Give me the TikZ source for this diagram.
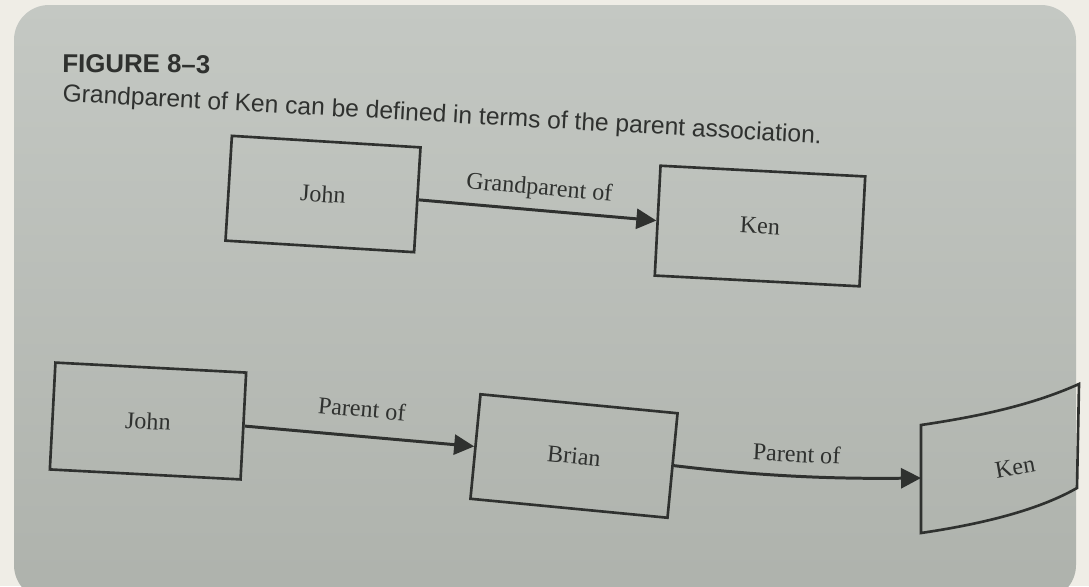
\documentclass[tikz,border=0pt]{standalone}
\usepackage{fontspec}
\setmainfont{Liberation Serif}
\newfontfamily\capfont[Ligatures=TeX]{Liberation Sans}
\usetikzlibrary{arrows.meta}
\definecolor{frame}{HTML}{EFEDE6}
\definecolor{pagetop}{HTML}{C4C8C3}
\definecolor{pagebot}{HTML}{AEB2AC}
\definecolor{ink}{HTML}{2F312F}
\begin{document}
\begin{tikzpicture}[x=0.02cm,y=-0.02cm,
  entity/.style={draw=ink,line width=1.5pt,inner sep=0pt,text=ink,
    font=\fontsize{13.7}{16}\selectfont},
  assoc/.style={draw=ink,line width=1.7pt,-{Triangle[length=0.4cm,width=0.4cm]}},
  role/.style={text=ink,inner sep=0pt,font=\fontsize{13.7}{16}\selectfont}]
\useasboundingbox (0,0) rectangle (1089,586);
\fill[frame] (0,0) rectangle (1089,586);
\shade[top color=pagetop,bottom color=pagebot,rounded corners=0.7cm]
  (14,5) rectangle (1076,600);

% title and caption
\node[anchor=base west,inner sep=0pt,text=ink,rotate=-0.5,
  font=\capfont\bfseries\fontsize{14.7}{17}\selectfont] (figno) at (62,72) {FIGURE 8--3};
\node[anchor=base west,inner sep=0pt,text=ink,rotate=-3.2,
  font=\capfont\fontsize{14}{17}\selectfont] (caption) at (62,101)
  {Grandparent of Ken can be defined in terms of the parent association.};

% grandparent association
\node[entity,rotate=-3.5,minimum width=3.78cm,minimum height=2.1cm] (johnA) at (323,194) {John};
\node[entity,rotate=-3,minimum width=4.1cm,minimum height=2.2cm] (kenA) at (760,226) {Ken};
\draw[assoc] (johnA.east) -- node[role,above=5pt,sloped]{Grandparent of} (kenA.west);

% parent associations
\node[entity,rotate=-3,minimum width=3.82cm,minimum height=2.14cm] (johnB) at (148,421) {John};
\node[entity,rotate=-5.5,minimum width=3.96cm,minimum height=2.1cm] (brian) at (574,456) {Brian};
\coordinate (kenB-nw) at (921,425);
\coordinate (kenB-ne) at (1079,384);
\coordinate (kenB-se) at (1077,488);
\coordinate (kenB-sw) at (921,533);
\coordinate (kenB-w) at (921,478);
\draw[ink,line width=1.5pt] (kenB-sw) -- (kenB-nw)
  .. controls (975,417) and (1030,406) .. (kenB-ne) -- (kenB-se)
  .. controls (1035,512) and (975,525) .. (kenB-sw) -- cycle;
\node[role,rotate=10] (kenB) at (1015,467) {Ken};
\draw[assoc] (johnB.east) -- node[role,above=10pt,sloped]{Parent of} (brian.west);
\draw[assoc] (brian.east) .. controls (760,476) and (830,479) ..
  node[role,above=7pt,sloped]{Parent of} (kenB-w);
\end{tikzpicture}
\end{document}
